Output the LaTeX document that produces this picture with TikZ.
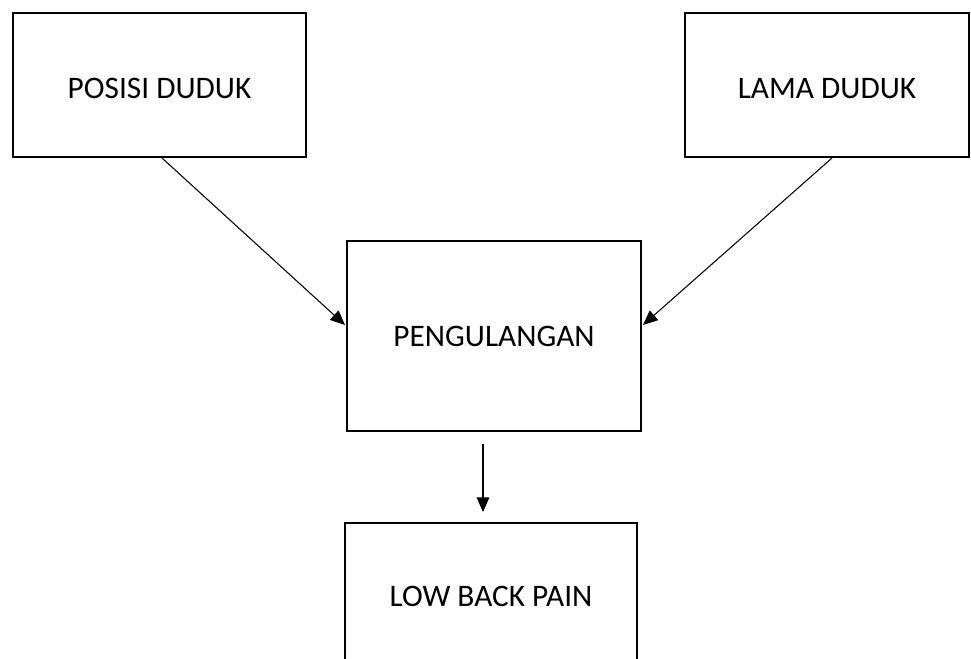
\documentclass[tikz,border=0pt]{standalone}
\usepackage{fontspec}
\setmainfont{Carlito}
\usetikzlibrary{arrows.meta}
\begin{document}
\begin{tikzpicture}[x=0.75pt,y=-0.75pt,
  boxnode/.style={draw=black,line width=1.5pt,rectangle,inner sep=0pt,
    font=\fontsize{23.5}{28}\selectfont},
  arr/.style={draw=black,line width=0.8pt,-{Triangle[length=11pt,width=9.5pt]}}]
\clip (0,0) rectangle (971,658);
\fill[white] (0,0) rectangle (971,658);
\node[boxnode,minimum width=293*0.75pt,minimum height=144*0.75pt,text height=19.5pt,text depth=0pt] (b1) at (159.5,85) {POSISI DUDUK};
\node[boxnode,minimum width=284*0.75pt,minimum height=144*0.75pt,text height=19.5pt,text depth=0pt] (b2) at (827,85) {LAMA DUDUK};
\node[boxnode,minimum width=294*0.75pt,minimum height=190*0.75pt] (b3) at (494,336) {PENGULANGAN};
\node[boxnode,minimum width=292*0.75pt,minimum height=146*0.75pt] (b4) at (491,596) {LOW BACK PAIN};
\draw[arr] ([shift={(2.5,0)}]b1.south) -- ([shift={(-1,-11)}]b3.west);
\draw[arr] ([shift={(5,0)}]b2.south) -- ([shift={(1,-11)}]b3.east);
\draw[arr] ([shift={(-11,12)}]b3.south) -- ([shift={(-8,-10)}]b4.north);
\end{tikzpicture}
\end{document}
